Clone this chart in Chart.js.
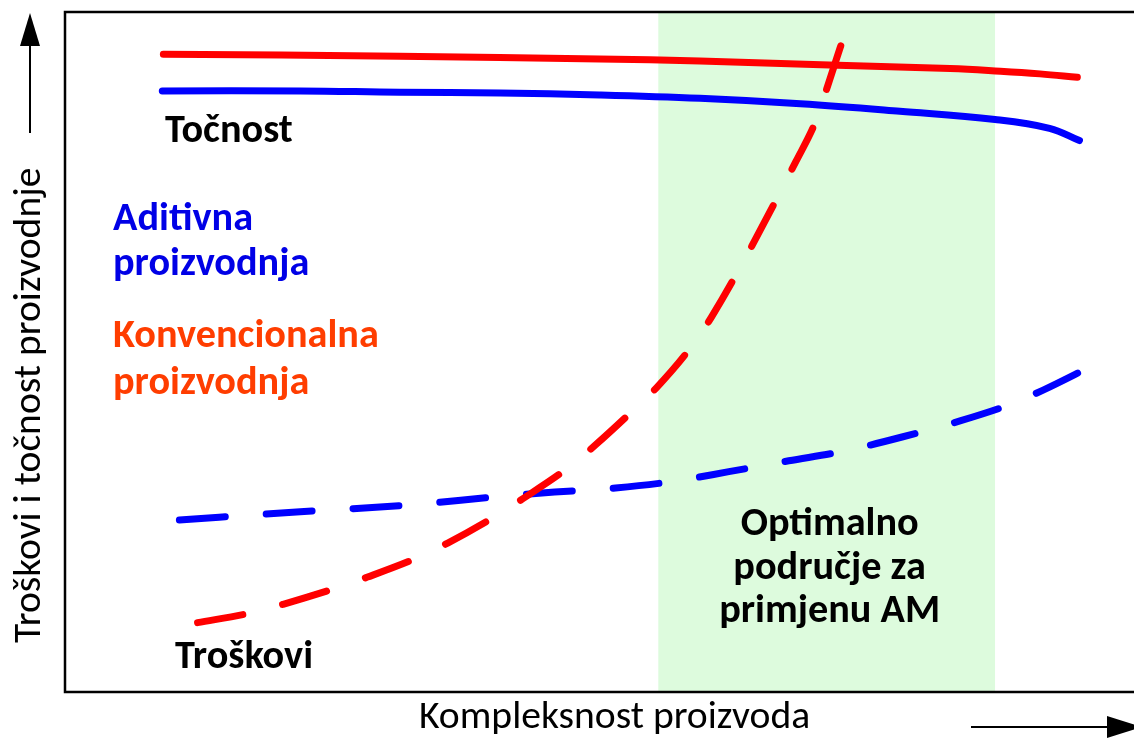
<!DOCTYPE html>
<html><head><meta charset="utf-8">
<script src="https://cdn.jsdelivr.net/npm/chart.js@4/dist/chart.umd.min.js"></script>
<style>html,body{margin:0;padding:0;background:#fff;overflow:hidden}#wrap{width:1134px;height:745px;position:relative}</style>
</head><body><div id="wrap"><canvas id="c" width="1134" height="745"></canvas></div>
<script>
// ---- DATA (complexity 0-100 on x, cost / accuracy 0-100 on y) ----
const accConvX = [9.2, 31.3, 50.0, 59.4, 71.5, 82.8, 87.5, 91.2, 94.7];
const accConvY = [93.8, 93.5, 93.1, 92.8, 92.2, 91.7, 91.3, 90.9, 90.4];

const accAddX = [9.1, 22.0, 31.3, 40.7, 50.0, 59.4, 68.8, 78.1, 87.0, 92.1, 94.9];
const accAddY = [88.4, 88.4, 88.2, 88.1, 87.8, 87.3, 86.5, 85.4, 84.2, 82.9, 81.1];

const costConvX = [12.4, 17.3, 20.4, 25.2, 28.3, 32.9, 35.8, 40.1, 42.8, 47.0, 49.6, 53.0, 55.3, 58.5, 60.5, 68.4, 70.4, 71.4, 73.0];
const costConvY = [10.2, 11.6, 12.9, 15.2, 16.9, 19.7, 21.9, 25.7, 28.4, 32.9, 36.3, 41.2, 44.7, 50.6, 55.2, 78.1, 84.6, 89.4, 97.1];

const costAddX = [10.7, 22.0, 32.1, 40.3, 45.8, 51.5, 56.6, 62.1, 67.7, 72.8, 78.3, 83.8, 88.6, 91.5, 96.0];
const costAddY = [25.3, 26.5, 27.5, 28.7, 29.4, 30.0, 30.9, 32.4, 34.0, 35.4, 37.5, 39.9, 42.4, 44.4, 47.9];

const optimalRange = [55.5, 87.0];

const xAxisTitle = 'Kompleksnost proizvoda';
const yAxisTitle = 'Troškovi i točnost proizvodnje';
const accuracyLabel = 'Točnost';
const costLabel = 'Troškovi';
const additiveLabel = ['Aditivna', 'proizvodnja'];
const conventionalLabel = ['Konvencionalna', 'proizvodnja'];
const optimalLabel = ['Optimalno', 'područje za', 'primjenu AM'];

// ---- styles ----
const RED = '#FF0000', BLUE = '#0000FF', ORANGE = '#FF3D00', TXTBLUE = '#0000E6';
const FAMILY = 'Carlito, Lato, "Open Sans", sans-serif';

const pts = (xs, ys) => xs.map((x, i) => ({x, y: ys[i]}));

function lineDs(xs, ys, color, dashed) {
  const ds = {
    data: pts(xs, ys), borderColor: color, borderWidth: 7, pointRadius: 0,
    fill: false, borderCapStyle: 'round',
    borderJoinStyle: 'round', borderDash: dashed ? [46, 41] : []
  };
  if (dashed) ds.cubicInterpolationMode = 'monotone';
  else ds.tension = 0.4;
  return ds;
}

function fit(ctx, text, weight, width) {
  ctx.font = `${weight} 100px ${FAMILY}`;
  return 100 * width / ctx.measureText(text).width;
}

const decor = {
  id: 'decor',
  beforeDatasetsDraw(chart) {
    const {ctx, chartArea: a, scales: {x}} = chart;
    ctx.save();
    ctx.fillStyle = '#DDFBDD';
    const x0 = x.getPixelForValue(optimalRange[0]), x1 = x.getPixelForValue(optimalRange[1]);
    ctx.fillRect(x0, a.top, x1 - x0, a.bottom - a.top);
    ctx.restore();
  },
  afterDraw(chart) {
    const {ctx, chartArea: a, scales: {x}} = chart;
    ctx.save();
    // box (open on right)
    ctx.strokeStyle = '#000'; ctx.lineWidth = 2.5;
    ctx.beginPath();
    ctx.moveTo(chart.width + 5, a.top); ctx.lineTo(a.left, a.top);
    ctx.lineTo(a.left, a.bottom); ctx.lineTo(chart.width + 5, a.bottom);
    ctx.stroke();

    // font sizes
    const bold = (fit(ctx, 'Konvencionalna', 'bold', 265) + fit(ctx, 'Optimalno', 'bold', 178) +
                  fit(ctx, 'primjenu AM', 'bold', 215) + fit(ctx, 'Točnost', 'bold', 132)) / 4;
    const reg = (fit(ctx, yAxisTitle, 'normal', 488) + fit(ctx, xAxisTitle, 'normal', 381)) / 2;

    ctx.textBaseline = 'alphabetic';
    ctx.font = `bold ${bold}px ${FAMILY}`;
    ctx.textAlign = 'left';
    ctx.fillStyle = '#000';
    ctx.fillText(accuracyLabel, 165, 142);
    ctx.fillText(costLabel, 175, 668);
    ctx.fillStyle = TXTBLUE;
    ctx.fillText(additiveLabel[0], 113, 230);
    ctx.fillText(additiveLabel[1], 113, 275);
    ctx.fillStyle = ORANGE;
    ctx.fillText(conventionalLabel[0], 113, 347);
    ctx.fillText(conventionalLabel[1], 113, 394);
    ctx.fillStyle = '#000';
    ctx.textAlign = 'center';
    const cx = (x.getPixelForValue(optimalRange[0]) + x.getPixelForValue(optimalRange[1])) / 2 + 3;
    [535, 579, 622].forEach((yy, i) => ctx.fillText(optimalLabel[i], cx, yy));

    // axis titles
    ctx.font = `normal ${reg}px ${FAMILY}`;
    ctx.textAlign = 'left';
    ctx.fillText(xAxisTitle, 419, 728);
    ctx.save();
    ctx.translate(40, 643); ctx.rotate(-Math.PI / 2);
    ctx.fillText(yAxisTitle, 0, 0);
    ctx.restore();

    // arrows
    ctx.strokeStyle = '#000'; ctx.fillStyle = '#000'; ctx.lineWidth = 2;
    ctx.beginPath(); ctx.moveTo(30, 133); ctx.lineTo(30, 44); ctx.stroke();
    ctx.beginPath(); ctx.moveTo(30, 13); ctx.lineTo(20, 46); ctx.lineTo(40, 46); ctx.closePath(); ctx.fill();
    ctx.beginPath(); ctx.moveTo(971, 727); ctx.lineTo(1110, 727); ctx.stroke();
    ctx.beginPath(); ctx.moveTo(1142, 727); ctx.lineTo(1107, 716); ctx.lineTo(1107, 738); ctx.closePath(); ctx.fill();
    ctx.restore();
  }
};

new Chart(document.getElementById('c'), {
  type: 'line',
  data: {
    datasets: [
      lineDs(accConvX, accConvY, RED, false),
      lineDs(accAddX, accAddY, BLUE, false),
      lineDs(costConvX, costConvY, RED, true),
      lineDs(costAddX, costAddY, BLUE, true)
    ]
  },
  options: {
    responsive: false, animation: false, events: [],
    layout: {padding: {left: 65, top: 12, right: 0, bottom: 53}},
    scales: {
      x: {type: 'linear', min: 0, max: 100, display: false},
      y: {type: 'linear', min: 0, max: 100, display: false}
    },
    plugins: {legend: {display: false}, tooltip: {enabled: false}}
  },
  plugins: [decor]
});
</script></body></html>
